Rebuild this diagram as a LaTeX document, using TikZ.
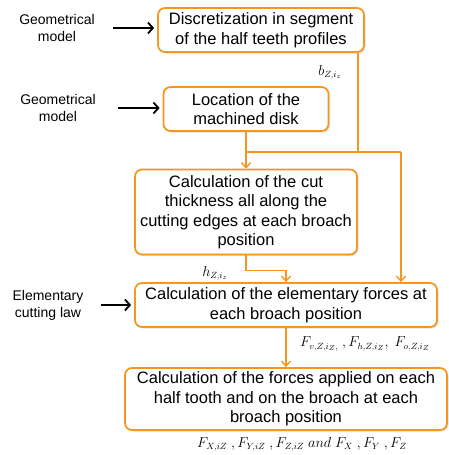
\documentclass[tikz,border=0pt]{standalone}
\usepackage{fontspec}
\setmainfont{Liberation Sans}
\usepackage{xcolor}
\usetikzlibrary{arrows.meta, positioning, shadows}
\definecolor{boxorange}{HTML}{F7961E}

\begin{document}
\begin{tikzpicture}[
  x=1pt, y=-1pt,
  every node/.style={align=center},
  procbox/.style={draw=boxorange, line width=1.7pt, rounded corners=7pt, fill=white,
    font=\fontsize{16.5}{19.5}\selectfont, inner sep=2pt,
    drop shadow={shadow xshift=1.5pt, shadow yshift=-1.5pt, opacity=0.25}},
  inlabel/.style={font=\fontsize{14}{17}\selectfont, inner sep=0pt},
  varlabel/.style={font=\fontsize{13.5}{15}\selectfont, inner sep=0pt},
  inarr/.style={-{Straight Barb[length=5pt, width=11pt]}, line width=1.8pt, black},
  link/.style={draw=boxorange, line width=1.4pt},
  arr/.style={link, -{Straight Barb[length=5pt, width=9pt]}}
]
\useasboundingbox (0,0) rectangle (448,455);

% process boxes
\node[procbox, minimum width=206pt, minimum height=44pt] (disc) at (261,30)
  {Discretization in segment\\of the half teeth profiles};
\node[procbox, minimum width=165pt, minimum height=44pt] (loc) at (246,109)
  {Location of the\\machined disk};
\node[procbox, minimum width=222pt, minimum height=85pt] (thick) at (246,212)
  {Calculation of the cut\\thickness all along the\\cutting edges at each broach\\position};
\node[procbox, minimum width=302pt, minimum height=44pt] (elem) at (286,305)
  {Calculation of the elementary forces at\\each broach position};
\node[procbox, minimum width=322pt, minimum height=62pt] (forces) at (286,399)
  {Calculation of the forces applied on each\\half tooth and on the broach at each\\broach position};

% inputs
\node[inlabel] (geo1) at (57,28) {Geometrical\\model};
\node[inlabel] (geo2) at (58,108) {Geometrical\\model};
\node[inlabel] (law) at (48,305) {Elementary\\cutting law};
\draw[inarr, shorten <=18pt, shorten >=3pt] (geo1.east) -- (geo1.east -| disc.west);
\draw[inarr, shorten <=22pt, shorten >=3pt] (geo2.east) -- (geo2.east -| loc.west);
\draw[inarr, shorten <=17pt, shorten >=3pt] (law.east) -- (law.east -| elem.west);

% junctions
\coordinate (split) at (246,152);
\coordinate (bz) at (358,152);
\coordinate (rt) at (401,152);

\draw[link] (bz |- disc.south) -- (bz);
\draw[link] (loc.south) -- (split) -- (rt);
\draw[arr] (split) -- (thick.north);
\draw[arr] (rt) -- (rt |- elem.north);
\draw[arr] (thick.south) -- ++(0,15) -| (elem.north);
\draw[arr] (elem.south) -- (forces.north);

% variables
\node[varlabel] (b) at (330,72) {$b_{Z,i_z}$};
\node[varlabel] (h) at (215,273) {$h_{Z,i_z}$};
\node[varlabel] (fel) at (365,344) {$F_{v,Z,i_Z,}\ ,F_{h,Z,i_Z},\ F_{o,Z,i_Z}$};
\node[varlabel] (ftot) at (302,444) {$F_{X,iZ}\ ,F_{Y,iZ}\ ,F_{Z,iZ}\ and\ F_X\ ,F_Y\ ,F_Z$};

\end{tikzpicture}
\end{document}
